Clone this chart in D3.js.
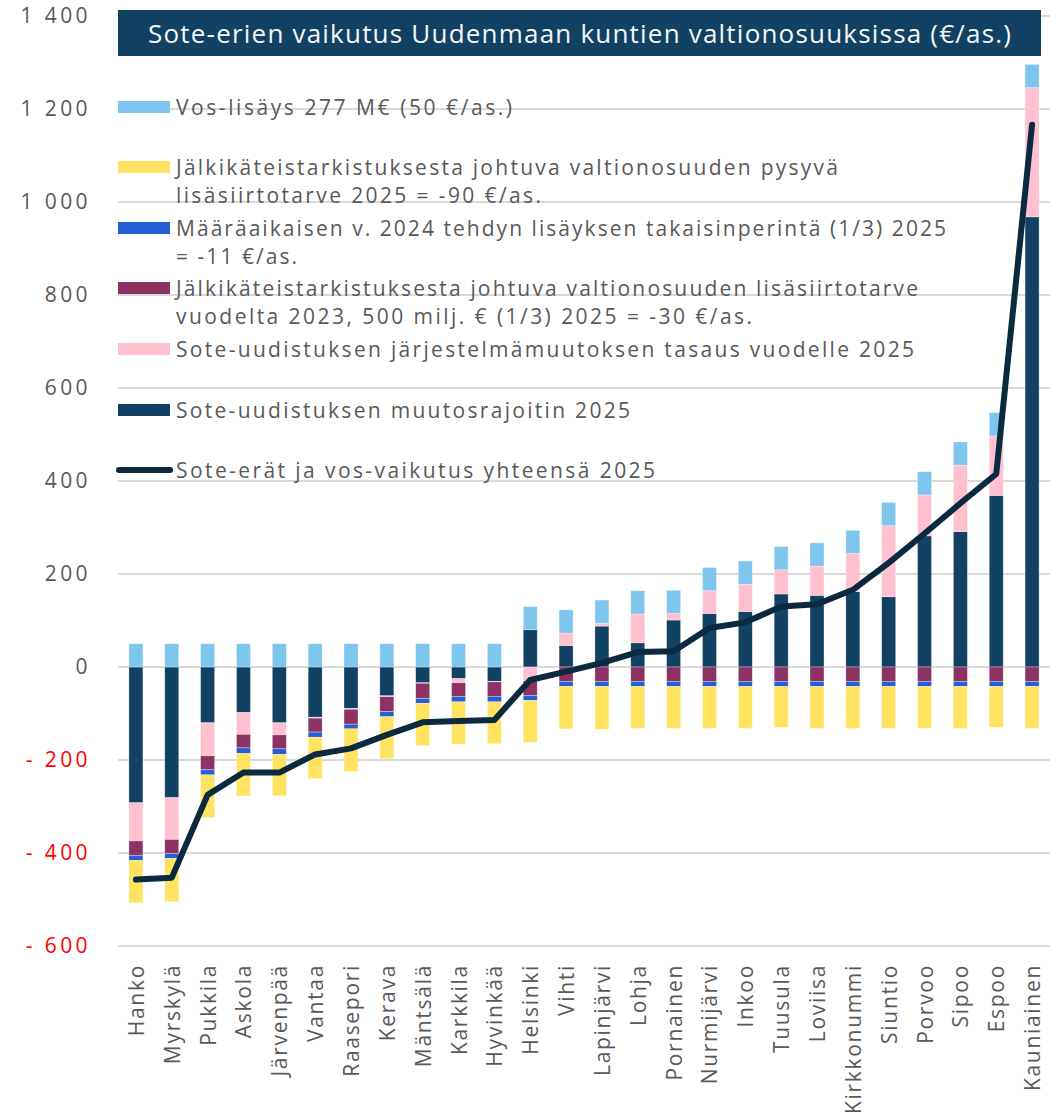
<!DOCTYPE html>
<html>
<head>
<meta charset="utf-8">
<script src="https://cdn.jsdelivr.net/npm/d3@7"></script>
<style>
  body { margin: 0; background: #fff; }
  svg text { font-family: "Open Sans", sans-serif; }
</style>
</head>
<body>
<svg id="chart"></svg>
<script>
// data (€/as.)
const municipalities = ["Hanko", "Myrskylä", "Pukkila", "Askola", "Järvenpää", "Vantaa", "Raasepori", "Kerava",
  "Mäntsälä", "Karkkila", "Hyvinkää", "Helsinki", "Vihti", "Lapinjärvi", "Lohja", "Pornainen", "Nurmijärvi",
  "Inkoo", "Tuusula", "Loviisa", "Kirkkonummi", "Siuntio", "Porvoo", "Sipoo", "Espoo", "Kauniainen"];

const muutosrajoitin = [-292, -281, -120, -98, -120, -108, -89, -62, -34, -25, -31, 80, 46, 88, 52, 101, 115, 119, 157, 154, 162, 151, 282, 291, 369, 968];
const tasaus = [-82, -90, -71, -47, -26, -2, -2, -2, -1, -9, -1, -30, 27, 6, 62, 14, 49, 59, 52, 63, 82, 153, 88, 143, 128, 278];
const lisasiirto2023 = [-31, -30, -30, -29, -30, -30, -32, -32, -33, -30, -31, -31, -31, -31, -31, -31, -31, -31, -31, -31, -31, -31, -31, -31, -31, -31];
const takaisinperinta = [-11, -11, -11, -12, -12, -11, -10, -11, -10, -11, -12, -11, -11, -11, -11, -11, -11, -11, -11, -11, -11, -11, -11, -11, -11, -11];
const pysyvaSiirto = [-91, -93, -92, -91, -89, -89, -92, -90, -91, -91, -90, -90, -91, -92, -90, -90, -90, -90, -88, -90, -90, -90, -90, -90, -88, -90];
const vosLisays = [50, 50, 50, 50, 50, 50, 50, 50, 50, 50, 50, 50, 50, 50, 50, 50, 50, 50, 50, 50, 50, 50, 50, 50, 50, 50];
const yhteensa = [-457, -453, -275, -227, -227, -188, -175, -146, -119, -116, -114, -28, -10, 9, 32, 34, 84, 96, 130, 135, 166, 224, 287, 352, 415, 1166];

const yTicks = [-600, -400, -200, 0, 200, 400, 600, 800, 1000, 1200, 1400];

const title = "Sote-erien vaikutus Uudenmaan kuntien valtionosuuksissa (€/as.)";

// stacking order (bottom up from zero)
const seriesList = [
  { key: "muutosrajoitin", values: muutosrajoitin, color: "#114163", label: ["Sote-uudistuksen muutosrajoitin 2025"] },
  { key: "tasaus", values: tasaus, color: "#FFC0D0", label: ["Sote-uudistuksen järjestelmämuutoksen tasaus vuodelle 2025"] },
  { key: "lisasiirto2023", values: lisasiirto2023, color: "#8E3263", label: ["Jälkikäteistarkistuksesta johtuva valtionosuuden lisäsiirtotarve", "vuodelta 2023, 500 milj. € (1/3) 2025 = -30 €/as."] },
  { key: "takaisinperinta", values: takaisinperinta, color: "#265ED4", label: ["Määräaikaisen v. 2024 tehdyn lisäyksen takaisinperintä (1/3) 2025", "= -11 €/as."] },
  { key: "pysyva", values: pysyvaSiirto, color: "#FFE361", label: ["Jälkikäteistarkistuksesta johtuva valtionosuuden pysyvä", "lisäsiirtotarve 2025 = -90 €/as."] },
  { key: "vos", values: vosLisays, color: "#7FC6EF", label: ["Vos-lisäys 277 M€ (50 €/as.)"] }
];
const lineLabel = "Sote-erät ja vos-vaikutus yhteensä 2025";

class SoteChart {
  constructor(_config) {
    this.config = {
      parentElement: _config.parentElement,
      containerWidth: _config.containerWidth || 1061,
      containerHeight: _config.containerHeight || 1115,
      margin: { top: 16, bottom: 169, right: 11, left: 118 }
    };
    this.initVis();
  }

  initVis() {
    let vis = this;
    vis.width = vis.config.containerWidth - vis.config.margin.left - vis.config.margin.right;
    vis.height = 946 - vis.config.margin.top;

    vis.svg = d3.select("#" + vis.config.parentElement)
      .attr("width", vis.config.containerWidth)
      .attr("height", vis.config.containerHeight);

    vis.chart = vis.svg.append("g")
      .attr("transform", `translate(${vis.config.margin.left},${vis.config.margin.top})`);

    vis.xScale = d3.scaleBand()
      .domain(municipalities)
      .range([0, vis.width])
      .paddingInner(0.61)
      .paddingOuter(0.305);

    vis.yScale = d3.scaleLinear()
      .domain([-600, 1400])
      .range([vis.height, 0]);

    // build stacked segments by sign
    vis.segments = [];
    municipalities.forEach((m, i) => {
      let pos = 0, neg = 0;
      seriesList.forEach(s => {
        const v = s.values[i];
        if (v >= 0) {
          vis.segments.push({ m, color: s.color, y0: pos, y1: pos + v });
          pos += v;
        } else {
          vis.segments.push({ m, color: s.color, y0: neg + v, y1: neg });
          neg += v;
        }
      });
    });

    vis.renderVis();
  }

  renderVis() {
    let vis = this;
    const fmt = d => {
      const s = d3.format(",")(Math.abs(d)).replace(/,/g, " ");
      return d < 0 ? "- " + s : s;
    };

    // gridlines
    vis.chart.append("g")
      .selectAll("line")
      .data(yTicks)
      .join("line")
      .attr("x1", 0)
      .attr("x2", vis.width)
      .attr("y1", d => vis.yScale(d))
      .attr("y2", d => vis.yScale(d))
      .attr("stroke", "#d9d9d9")
      .attr("stroke-width", 2);

    // y axis labels
    const yAxis = d3.axisLeft(vis.yScale).tickValues(yTicks).tickFormat(fmt).tickSize(0).tickPadding(27);
    const yAxisG = vis.chart.append("g").attr("class", "y-axis").call(yAxis);
    yAxisG.select(".domain").remove();
    yAxisG.selectAll("text")
      .attr("font-size", 21)
      .attr("font-family", "Open Sans, sans-serif")
      .attr("letter-spacing", 3.4)
      .attr("fill", d => d < 0 ? "#FF0000" : "#595959");

    // title box
    vis.svg.append("rect")
      .attr("x", 118).attr("y", 10)
      .attr("width", 923).attr("height", 46)
      .attr("fill", "#114163");
    vis.svg.append("text")
      .attr("x", 148).attr("y", 33)
      .attr("dominant-baseline", "central")
      .attr("font-size", 26)
      .attr("fill", "#F4F6F8")
      .attr("textLength", 863)
      .attr("lengthAdjust", "spacing")
      .text(title);

    // legend (widths match the wide face of the original)
    const legendRows = [
      { s: seriesList[5], y: 107, w: [336] },
      { s: seriesList[4], y: 167, w: [662, 365] },
      { s: seriesList[3], y: 228, w: [770, 121] },
      { s: seriesList[2], y: 288, w: [742, 576] },
      { s: seriesList[1], y: 349, w: [738] },
      { s: seriesList[0], y: 410, w: [454] }
    ];
    const legend = vis.svg.append("g");
    legendRows.forEach(r => {
      legend.append("rect")
        .attr("x", 118).attr("y", r.y - 6)
        .attr("width", 52).attr("height", 12)
        .attr("fill", r.s.color);
      r.s.label.forEach((line, j) => {
        legend.append("text")
          .attr("x", 176).attr("y", r.y + j * 28)
          .attr("dominant-baseline", "central")
          .attr("font-size", 21)
          .attr("fill", "#595959")
          .attr("textLength", r.w[j])
          .attr("lengthAdjust", "spacing")
          .text(line);
      });
    });
    legend.append("line")
      .attr("x1", 119).attr("x2", 170)
      .attr("y1", 470).attr("y2", 470)
      .attr("stroke", "#0B2A40").attr("stroke-width", 6)
      .attr("stroke-linecap", "round");
    legend.append("text")
      .attr("x", 176).attr("y", 470)
      .attr("dominant-baseline", "central")
      .attr("font-size", 21)
      .attr("fill", "#595959")
      .attr("textLength", 479)
      .attr("lengthAdjust", "spacing")
      .text(lineLabel);

    // bars
    vis.chart.append("g")
      .selectAll("rect")
      .data(vis.segments)
      .join("rect")
      .attr("x", d => vis.xScale(d.m))
      .attr("width", vis.xScale.bandwidth())
      .attr("y", d => vis.yScale(d.y1))
      .attr("height", d => vis.yScale(d.y0) - vis.yScale(d.y1))
      .attr("fill", d => d.color)
      .attr("stroke", "#ffffff")
      .attr("stroke-opacity", 0.5)
      .attr("stroke-width", 0.6);

    // total line
    vis.line = d3.line()
      .x((d, i) => vis.xScale(municipalities[i]) + vis.xScale.bandwidth() / 2)
      .y(d => vis.yScale(d));

    vis.chart.append("path")
      .datum(yhteensa)
      .attr("fill", "none")
      .attr("stroke", "#0B2A40")
      .attr("stroke-width", 6)
      .attr("stroke-linejoin", "round")
      .attr("stroke-linecap", "round")
      .attr("d", vis.line);

    // x labels
    vis.chart.append("g")
      .selectAll("text")
      .data(municipalities)
      .join("text")
      .attr("transform", d => `translate(${vis.xScale(d) + vis.xScale.bandwidth() / 2},${vis.height + 18}) rotate(-90)`)
      .attr("text-anchor", "end")
      .attr("dominant-baseline", "central")
      .attr("font-size", 21)
      .attr("letter-spacing", 1.7)
      .attr("fill", "#595959")
      .text(d => d);
  }
}

new SoteChart({ parentElement: "chart", containerWidth: 1061, containerHeight: 1115 });
</script>
</body>
</html>
